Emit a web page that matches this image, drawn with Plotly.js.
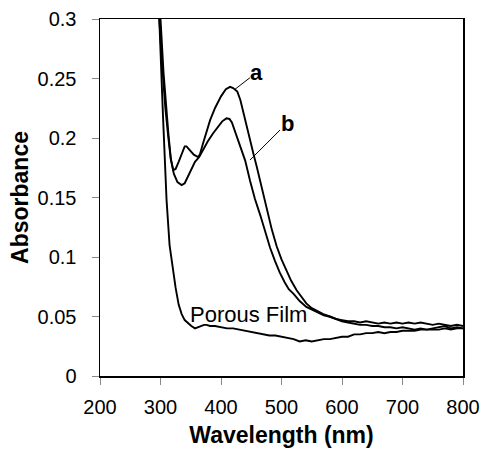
<!DOCTYPE html>
<html>
<head>
<meta charset="utf-8">
<script src="https://cdn.plot.ly/plotly-3.0.1.min.js"></script>
<style>html,body{margin:0;padding:0;background:#fff;}#chart{width:484px;height:453px;}</style>
</head>
<body>
<div id="chart"></div>
<script>
// Wavelength (nm) and absorbance values
const waveA = [290, 298, 303, 308, 313, 317, 321, 325, 330, 335, 340, 343, 348, 355, 362, 365, 370, 375, 382, 390, 400, 408, 415, 420, 427, 432, 437, 442, 448, 454, 459, 465, 472, 476, 484, 492, 500, 508, 516, 525, 533, 541, 550, 560, 569, 580, 590, 600, 610, 620, 630, 640, 650, 660, 670, 680, 690, 700, 710, 720, 730, 740, 750, 760, 770, 780, 790, 800];
const absA  = [0.50, 0.30, 0.26, 0.225, 0.20, 0.182, 0.173, 0.174, 0.180, 0.187, 0.193, 0.193, 0.190, 0.186, 0.184, 0.186, 0.195, 0.204, 0.215, 0.225, 0.235, 0.241, 0.243, 0.242, 0.239, 0.232, 0.221, 0.210, 0.198, 0.186, 0.176, 0.163, 0.150, 0.140, 0.123, 0.109, 0.098, 0.089, 0.080, 0.072, 0.066, 0.061, 0.057, 0.054, 0.052, 0.050, 0.048, 0.047, 0.046, 0.046, 0.045, 0.046, 0.045, 0.044, 0.045, 0.044, 0.045, 0.044, 0.045, 0.044, 0.045, 0.044, 0.043, 0.044, 0.043, 0.042, 0.043, 0.042];

const waveB = [290, 300, 305, 310, 313, 317, 322, 328, 335, 340, 345, 350, 357, 364, 370, 378, 387, 395, 402, 409, 414, 418, 423, 428, 434, 440, 448, 456, 465, 473, 481, 489, 497, 505, 512, 520, 530, 541, 550, 558, 570, 580, 590, 600, 610, 620, 630, 640, 650, 660, 670, 680, 690, 700, 710, 720, 730, 740, 750, 760, 770, 780, 790, 800];
const absB  = [0.50, 0.30, 0.255, 0.22, 0.204, 0.183, 0.170, 0.163, 0.1605, 0.162, 0.167, 0.173, 0.180, 0.184, 0.190, 0.197, 0.204, 0.209, 0.214, 0.2165, 0.216, 0.213, 0.206, 0.198, 0.190, 0.181, 0.164, 0.149, 0.135, 0.121, 0.108, 0.097, 0.087, 0.079, 0.073, 0.069, 0.063, 0.058, 0.056, 0.054, 0.051, 0.0498, 0.048, 0.046, 0.045, 0.044, 0.043, 0.043, 0.042, 0.042, 0.041, 0.041, 0.040, 0.041, 0.040, 0.039, 0.040, 0.039, 0.040, 0.041, 0.042, 0.040, 0.041, 0.040];

const wavePF = [290, 298, 304, 310, 315, 320, 325, 330, 335, 340, 346, 351, 357, 362, 367, 372, 376, 382, 390, 400, 410, 420, 430, 440, 450, 460, 470, 480, 490, 500, 510, 520, 530, 540, 550, 560, 570, 580, 590, 600, 610, 620, 630, 640, 650, 660, 670, 680, 690, 700, 710, 720, 730, 740, 750, 760, 770, 780, 790, 800];
const absPF  = [0.45, 0.30, 0.22, 0.148, 0.110, 0.090, 0.074, 0.060, 0.052, 0.047, 0.044, 0.042, 0.040, 0.041, 0.042, 0.043, 0.043, 0.042, 0.042, 0.041, 0.040, 0.040, 0.039, 0.038, 0.037, 0.036, 0.035, 0.034, 0.034, 0.033, 0.032, 0.031, 0.029, 0.030, 0.029, 0.030, 0.031, 0.031, 0.032, 0.033, 0.033, 0.035, 0.035, 0.036, 0.036, 0.037, 0.036, 0.037, 0.037, 0.038, 0.038, 0.038, 0.039, 0.039, 0.039, 0.039, 0.040, 0.039, 0.040, 0.040];

const xTicks = [200, 300, 400, 500, 600, 700, 800];
const xTickText = ["200", "300", "400", "500", "600", "700", "800"];
const yTicks = [0, 0.05, 0.1, 0.15, 0.2, 0.25, 0.3];
const yTickText = ["0", "0.05", "0.1", "0.15", "0.2", "0.25", "0.3"];

const labelA = "a", labelB = "b", labelPF = "Porous Film";

const lineStyle = {color: "#000", width: 1.9};
const traces = [
  {x: waveA, y: absA, mode: "lines", line: lineStyle, name: labelA},
  {x: waveB, y: absB, mode: "lines", line: lineStyle, name: labelB},
  {x: wavePF, y: absPF, mode: "lines", line: lineStyle, name: labelPF}
];

const font = "Liberation Sans, Arial, sans-serif";
const layout = {
  width: 484, height: 453,
  margin: {l: 100, r: 21, t: 19, b: 77},
  paper_bgcolor: "#fff", plot_bgcolor: "#fff",
  showlegend: false,
  font: {family: font, color: "#000", size: 20},
  xaxis: {
    range: [200, 800], tickvals: xTicks, ticktext: xTickText,
    showgrid: false, zeroline: false,
    showline: true, linecolor: "#000", linewidth: 1.5, mirror: true,
    ticks: "outside", ticklen: 7, tickcolor: "#888", tickwidth: 1,
    ticklabelstandoff: 5,
    tickfont: {family: font, size: 20, color: "#000"},
    title: {text: "Wavelength (nm)", font: {family: font, size: 23, color: "#000", weight: "bold"}, standoff: 10}
  },
  yaxis: {
    range: [0, 0.3], tickvals: yTicks, ticktext: yTickText,
    showgrid: false, zeroline: false,
    showline: true, linecolor: "#000", linewidth: 1.5, mirror: true,
    ticks: "outside", ticklen: 7, tickcolor: "#888", tickwidth: 1,
    ticklabelstandoff: 11,
    tickfont: {family: font, size: 20, color: "#000"},
    title: {text: "Absorbance", font: {family: font, size: 23, color: "#000", weight: "bold"}, standoff: 2}
  },
  annotations: [
    {x: 423, y: 0.2409, text: labelA, showarrow: true, arrowhead: 0, arrowwidth: 1, arrowcolor: "#000",
     ax: 22, ay: -17, font: {family: font, size: 22, color: "#000", weight: "bold"}, borderpad: 0},
    {x: 448, y: 0.1815, text: labelB, showarrow: true, arrowhead: 0, arrowwidth: 1, arrowcolor: "#000",
     ax: 37, ay: -37, font: {family: font, size: 22, color: "#000", weight: "bold"}, borderpad: 0},
    {x: 446, y: 0.0513, text: labelPF, showarrow: false, font: {family: font, size: 22, color: "#000"}}
  ]
};

Plotly.newPlot("chart", traces, layout, {staticPlot: true, displayModeBar: false});
</script>
</body>
</html>
